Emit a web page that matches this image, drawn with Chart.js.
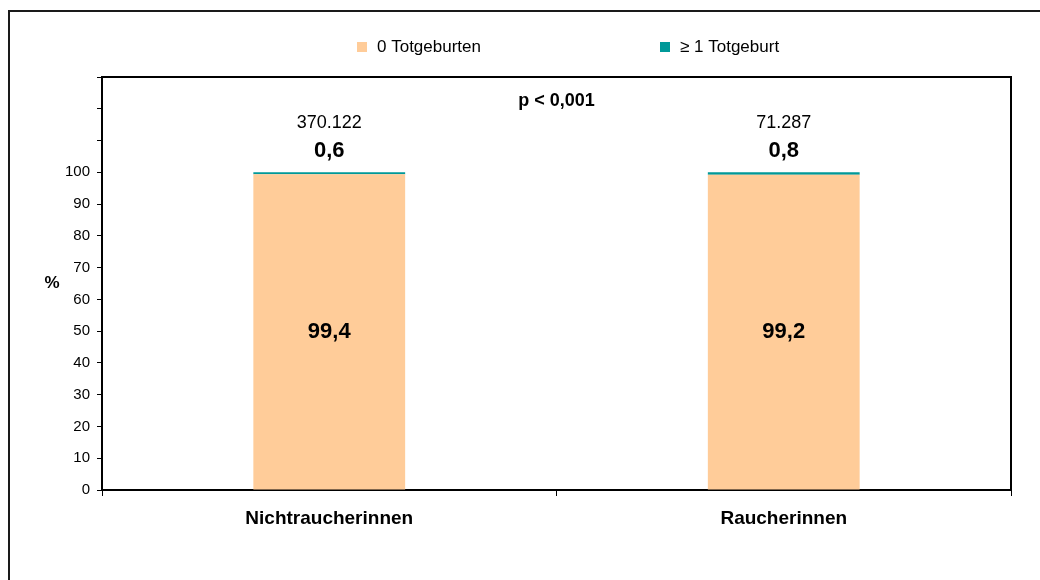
<!DOCTYPE html>
<html>
<head>
<meta charset="utf-8">
<script src="https://cdn.jsdelivr.net/npm/chart.js@4/dist/chart.umd.min.js"></script>
<style>
html,body{margin:0;padding:0;background:#fff;}
#wrap{width:1040px;height:580px;}
</style>
</head>
<body>
<div id="wrap"><canvas id="c" width="1040" height="580"></canvas></div>
<script>
const categories = ['Nichtraucherinnen', 'Raucherinnen'];
const seriesNames = ['0 Totgeburten', '\u2265 1 Totgeburt'];
const noStillbirth = [99.4, 99.2];
const stillbirth = [0.6, 0.8];
const totals = ['370.122', '71.287'];
const pValueText = 'p < 0,001';
const yMax = 130;
const yStep = 10;
const yLabelMax = 100;
const axisTitle = '%';

const FONT = '"Liberation Sans", Arial, sans-serif';
const colors = ['#FFCC99', '#009999'];

function fmt(v) { return v.toFixed(1).replace('.', ','); }

const decorPlugin = {
  id: 'decor',
  afterDraw(chart) {
    const ctx = chart.ctx;
    const a = chart.chartArea;
    ctx.save();
    // outer frame
    ctx.strokeStyle = '#1a1a1a';
    ctx.lineWidth = 2;
    ctx.beginPath();
    ctx.moveTo(9, 600); ctx.lineTo(9, 11); ctx.lineTo(1060, 11);
    ctx.stroke();
    // plot area top/right border
    ctx.strokeStyle = '#000';
    ctx.lineWidth = 2;
    ctx.beginPath();
    ctx.moveTo(a.left, a.top); ctx.lineTo(a.right, a.top); ctx.lineTo(a.right, a.bottom);
    ctx.stroke();
    // legend
    ctx.font = '17px ' + FONT;
    ctx.textBaseline = 'middle';
    ctx.textAlign = 'left';
    const legendX = [357, 660];
    chart.data.datasets.forEach((ds, i) => {
      ctx.fillStyle = ds.backgroundColor;
      ctx.fillRect(legendX[i], 42, 10, 10);
      ctx.fillStyle = '#000';
      ctx.fillText(ds.label, legendX[i] + 20, 47);
    });
    // axis title
    ctx.font = 'bold 17px ' + FONT;
    ctx.textAlign = 'center';
    ctx.fillText(axisTitle, 52, 283);
    // p value
    ctx.font = 'bold 18px ' + FONT;
    ctx.fillText(pValueText, (a.left + a.right) / 2, a.top + 24);
    // bar labels
    const m0 = chart.getDatasetMeta(0);
    const m1 = chart.getDatasetMeta(1);
    m0.data.forEach((el, i) => {
      ctx.font = 'bold 22px ' + FONT;
      ctx.fillText(fmt(chart.data.datasets[0].data[i]), el.x, (el.y + el.base) / 2);
    });
    m1.data.forEach((el, i) => {
      ctx.font = 'bold 22px ' + FONT;
      ctx.fillText(fmt(chart.data.datasets[1].data[i]), el.x, el.y - 21);
      ctx.font = '18px ' + FONT;
      ctx.fillText(totals[i], el.x, el.y - 49);
    });
    ctx.restore();
  }
};

new Chart(document.getElementById('c'), {
  type: 'bar',
  data: {
    labels: categories,
    datasets: [
      { label: seriesNames[0], data: noStillbirth, backgroundColor: colors[0], borderWidth: 0, categoryPercentage: 1, barPercentage: 0.334 },
      { label: seriesNames[1], data: stillbirth, backgroundColor: colors[1], borderWidth: 0, categoryPercentage: 1, barPercentage: 0.334 }
    ]
  },
  options: {
    responsive: false,
    animation: false,
    layout: { padding: { top: 77, right: 29, left: 0, bottom: 0 } },
    plugins: { legend: { display: false }, tooltip: { enabled: false } },
    scales: {
      x: {
        stacked: true,
        grid: { offset: true, drawOnChartArea: false, tickLength: 6, color: '#000', lineWidth: 1 },
        border: { color: '#000', width: 2 },
        ticks: { color: '#000', font: { family: FONT, size: 19, weight: 'bold' }, padding: 11, maxRotation: 0 },
        afterFit(s) { s.height = 90; }
      },
      y: {
        stacked: true,
        min: 0,
        max: yMax,
        grid: { drawOnChartArea: false, tickLength: 5, color: '#000', lineWidth: 1 },
        border: { color: '#000', width: 2 },
        ticks: {
          stepSize: yStep,
          color: '#000',
          padding: 7,
          font: { family: FONT, size: 15 },
          callback: v => (v <= yLabelMax ? String(v) : '')
        },
        afterFit(s) { s.width = 102; }
      }
    }
  },
  plugins: [decorPlugin]
});
</script>
</body>
</html>
